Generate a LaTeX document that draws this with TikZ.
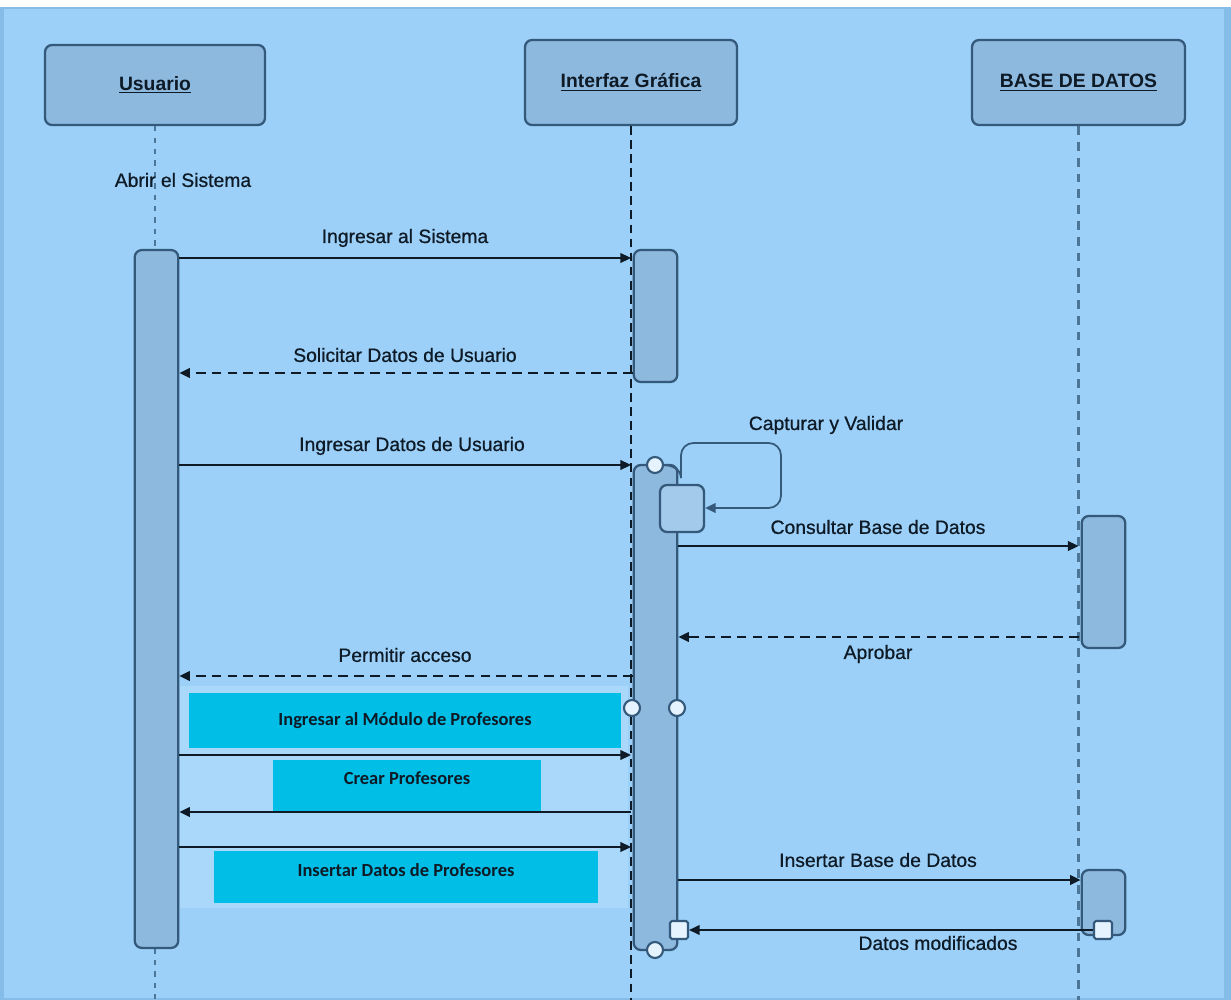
\documentclass[tikz,border=0pt]{standalone}
\usepackage{fontspec}
\setmainfont{Liberation Sans}
\newfontfamily\boxfont{Carlito}
\newfontfamily\lblfont[FakeBold=0.7]{Liberation Sans}
\usetikzlibrary{arrows.meta,calc}

\definecolor{bg}{HTML}{9CD0F8}
\definecolor{bgedge}{HTML}{86BDE8}
\definecolor{hdrfill}{HTML}{8DB9DF}
\definecolor{innerfill}{HTML}{A3CAEB}
\definecolor{edge}{HTML}{34597A}
\definecolor{lifeblue}{HTML}{4C7697}
\definecolor{cyanbox}{HTML}{00BEE6}
\definecolor{band}{HTML}{AAD8FA}
\definecolor{knob}{HTML}{E4F3FD}
\definecolor{ink}{HTML}{0E1A26}

\begin{document}
\begin{tikzpicture}[x=0.02cm,y=-0.02cm,
  hdr/.style={draw=edge,line width=1.3pt,fill=hdrfill,rounded corners=4pt,
    inner sep=0pt,font=\bfseries\fontsize{11}{13}\selectfont,text=ink},
  bar/.style={draw=edge,line width=1.3pt,fill=hdrfill,rounded corners=4pt,
    inner sep=0pt,minimum width=0.87cm},
  lbl/.style={font=\lblfont\fontsize{11}{13}\selectfont,text=ink,inner sep=1pt},
  cybox/.style={fill=cyanbox,inner sep=0pt,text=ink,
    font=\boxfont\bfseries\fontsize{10.5}{12}\selectfont},
  msg/.style={draw=ink,line width=1pt,-{Triangle[length=6pt,width=5.5pt]}},
  ret/.style={msg,dash pattern=on 5.5pt off 3.5pt},
  lifeU/.style={draw=lifeblue,line width=1.3pt,dash pattern=on 3pt off 3.5pt},
  lifeG/.style={draw=ink,line width=1.4pt,dash pattern=on 5pt off 3pt},
  lifeD/.style={draw=lifeblue,line width=1.2pt,dash pattern=on 5pt off 4pt},
  knobc/.style={circle,draw=edge,line width=1.2pt,fill=knob,inner sep=0pt,minimum size=0.32cm},
  knobs/.style={draw=edge,line width=1.2pt,fill=knob,inner sep=0pt,minimum size=0.36cm,rounded corners=1pt}
]
% canvas
\useasboundingbox (0,0) rectangle (1231,1000);
\fill[white] (0,0) rectangle (1231,1000);
\fill[bgedge] (0,7) rectangle (1231,1000);
\fill[bg] (4,9) rectangle (1224,998);
\fill[band] (180,686) rectangle (628,908);

% lifeline heads
\node[hdr,minimum width=4.4cm,minimum height=1.6cm] (usr) at (155,85) {\underline{Usuario}};
\node[hdr,minimum width=4.24cm,minimum height=1.7cm] (gui) at (631,82.5) {\underline{Interfaz Gráfica}};
\node[hdr,minimum width=4.26cm,minimum height=1.7cm] (db) at (1078.5,82.5) {\underline{BASE DE DATOS}};

% lower end of the lifelines
\coordinate (bot) at (0,1000);
\draw[lifeU] (usr.south) -- (usr.south |- bot);
\draw[lifeD] (db.south) -- (db.south |- bot);

% activation bars
\node[bar,minimum height=13.96cm] (ua) at (156.5,599) {};
\node[bar,minimum height=2.64cm] (ia1) at (655.5,316) {};
\node[bar,minimum height=9.7cm] (ia2) at (655.5,707.5) {};
\node[bar,fill=innerfill,minimum width=0.88cm,minimum height=0.94cm] (ib) at (682,508.5) {};
\node[bar,minimum height=2.64cm] (ba1) at (1103.5,582) {};
\node[bar,minimum height=1.3cm] (ba2) at (1103.5,902.5) {};

\draw[lifeG] (gui.south) -- (gui.south |- bot);

% message levels
\coordinate (r1) at (0,258);
\coordinate (r2) at (0,373);
\coordinate (r3) at (0,465);
\coordinate (r4) at (0,546);
\coordinate (r5) at (0,637);
\coordinate (r6) at (0,676);
\coordinate (r7) at (0,755);
\coordinate (r8) at (0,812);
\coordinate (r9) at (0,847);
\coordinate (r10) at (0,880);

\node[lbl] (t0) at (183,180) {Abrir el Sistema};

\draw[msg] (ua.east |- r1) -- (gui.south |- r1);
\node[lbl] (t1) at (405,238) {Ingresar al Sistema};

\draw[ret] (ia1.west |- r2) -- (ua.east |- r2);
\node[lbl] (t2) at (405,355) {Solicitar Datos de Usuario};

\draw[msg] (ua.east |- r3) -- (gui.south |- r3);
\node[lbl] (t3) at (412,446) {Ingresar Datos de Usuario};

% self call
\node[knobc] (k1) at (655,465) {};
\coordinate (la) at (681,478);
\coordinate (lb) at (681,443);
\coordinate (lc) at (781,443);
\coordinate (ld) at (781,508);
\draw[edge,line width=1.1pt] (k1.east) to[out=0,in=90] (la);
\draw[msg,draw=edge,rounded corners=7pt] (la) -- (lb) -- (lc) -- (ld) -- (ib.east |- ld);
\node[lbl] (t4) at (826,425) {Capturar y Validar};

\draw[msg] (ia2.east |- r4) -- (db.south |- r4);
\node[lbl] (t5) at (878,527) {Consultar Base de Datos};

\draw[ret] (db.south |- r5) -- (ia2.east |- r5);
\node[lbl] (t6) at (878,654) {Aprobar};

\draw[ret] (ia2.west |- r6) -- (ua.east |- r6);
\node[lbl] (t7) at (405,655) {Permitir acceso};

% module of teachers
\node[cybox,minimum width=8.64cm,minimum height=1.1cm] (c1) at (405,720.5) {Ingresar al Módulo de Profesores};
\draw[msg] (ua.east |- r7) -- (gui.south |- r7);
\node[cybox,minimum width=5.36cm,minimum height=1.02cm,text depth=0.3cm] (c2) at (407,785.5) {Crear Profesores};
\draw[msg] (gui.south |- r8) -- (ua.east |- r8);
\draw[msg] (ua.east |- r9) -- (gui.south |- r9);
\node[cybox,minimum width=7.68cm,minimum height=1.04cm,text depth=0.28cm] (c3) at (406,877) {Insertar Datos de Profesores};

\node[knobc] (k2) at (632,708) {};
\node[knobc] (k3) at (677,708) {};

\draw[msg] (ia2.east |- r10) -- (ba2.west |- r10);
\node[lbl] (t8) at (878,860) {Insertar Base de Datos};

\node[knobs] (s1) at (679,930) {};
\node[knobs] (s2) at (1103,930) {};
\node[knobc] (k4) at (655,950) {};
\draw[msg] (s2.west) -- (s1.east);
\node[lbl] (t9) at (938,943) {Datos modificados};
\end{tikzpicture}
\end{document}
